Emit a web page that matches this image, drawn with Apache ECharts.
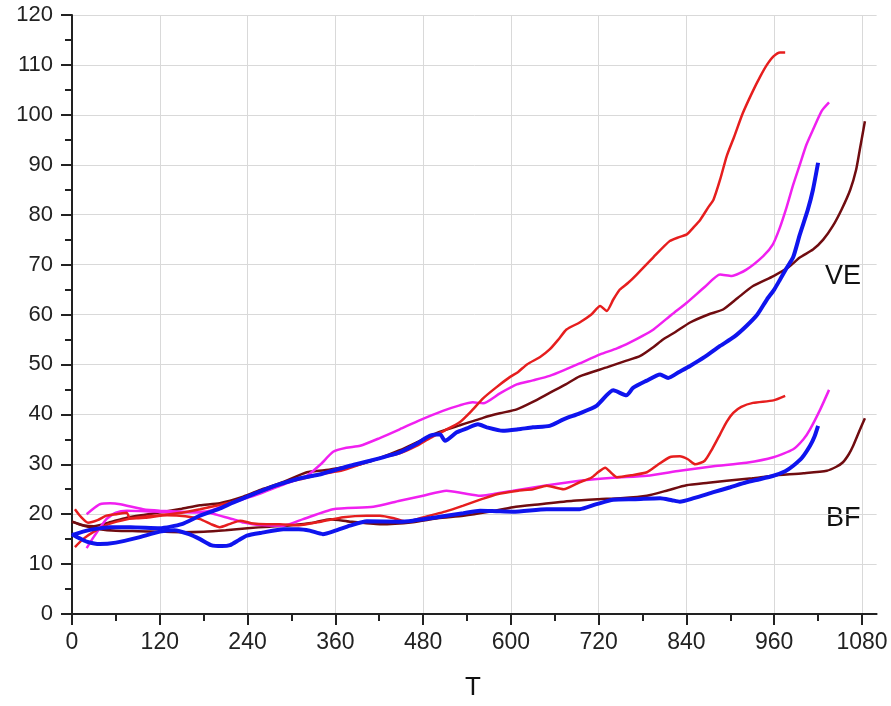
<!DOCTYPE html>
<html>
<head>
<meta charset="utf-8">
<script src="https://cdn.jsdelivr.net/npm/echarts@6/dist/echarts.min.js"></script>
<style>
  html, body { margin: 0; padding: 0; background: #fff; }
  #main { width: 891px; height: 706px; }
</style>
</head>
<body>
<div id="main"></div>
<script>
// x tick labels (T)
const xTicks = [0, 120, 240, 360, 480, 600, 720, 840, 960, 1080];

// VE curves, [T, value]
const veRed = [[4,13.4],[15,15],[30,16.5],[50,18],[75,19],[100,19.5],[120,19.8],[150,20.3],[175,21],[200,21.8],[220,22.5],[245,23.8],[266,25],[290,26.2],[312,27],[340,28],[370,28.8],[394,30],[420,31.2],[448,32.2],[471,33.7],[490,35.3],[510,36.8],[530,38.4],[545,40.5],[562,43.2],[580,45.4],[599,47.5],[610,48.5],[622,50],[640,51.5],[653,53],[665,55],[676,57],[694,58.4],[710,60],[722,61.7],[731,60.7],[740,63],[749,65],[760,66.3],[772,68],[795,71.5],[817,74.7],[830,75.5],[840,76],[850,77.5],[859,79],[870,81.5],[877,83],[886,87],[895,91.7],[905,95.5],[917,100.3],[930,104.5],[941,107.7],[950,110],[959,111.7],[968,112.5],[975,112.5]];
const veMagenta = [[20,13.2],[30,15.5],[47,19],[60,20.3],[75,20.7],[100,20.6],[130,20.4],[160,20.4],[189,20.7],[210,21.8],[234,23],[260,24.3],[290,26],[321,27.7],[340,30],[357,32.5],[375,33.3],[394,33.7],[420,35.2],[448,37],[475,38.8],[507,40.7],[530,41.8],[548,42.4],[562,42.2],[585,44.2],[608,46],[630,46.8],[653,47.7],[675,49],[694,50.2],[722,52],[745,53.2],[763,54.4],[780,55.7],[795,57],[820,60],[840,62.3],[865,65.5],[886,68],[902,67.7],[922,69],[945,71.7],[958,74],[968,77.5],[977,81.5],[986,86],[995,90],[1004,94],[1013,97],[1025,100.8],[1035,102.5]];
const veMaroon = [[0,18.5],[15,17.8],[30,17.6],[50,18.3],[75,19.3],[100,19.9],[130,20.6],[150,21.1],[175,21.8],[202,22.2],[234,23.5],[260,25],[290,26.5],[321,28.4],[345,28.8],[371,29.4],[389,29.8],[420,31.2],[448,32.8],[470,34.3],[499,36.3],[530,37.8],[562,39.3],[585,40.2],[608,41],[630,42.5],[653,44.3],[675,46],[694,47.6],[731,49.4],[755,50.6],[777,51.7],[795,53.5],[808,55],[825,56.5],[845,58.4],[870,60],[890,61],[910,63.3],[931,65.7],[959,67.7],[980,69.5],[995,71.4],[1013,73],[1027,75],[1040,77.7],[1052,81],[1064,85],[1072,89],[1077,93],[1084,98.7]];
const veBlue = [[0,15.8],[15,16.5],[30,17],[52,17.4],[80,17.4],[120,17.2],[150,18],[175,19.7],[200,21],[220,22.3],[248,24],[280,25.8],[312,27.2],[340,28],[380,29.7],[410,30.8],[448,32.4],[470,34],[489,35.7],[503,36],[510,34.7],[526,36.4],[540,37.2],[555,38],[567,37.4],[589,36.7],[610,37],[630,37.4],[653,37.7],[672,39],[694,40.2],[717,41.7],[740,44.8],[758,43.8],[767,45.3],[785,46.7],[804,48],[815,47.3],[830,48.5],[845,49.7],[865,51.5],[886,53.7],[905,55.5],[922,57.7],[937,60],[950,63],[960,65],[968,67],[977,69.3],[986,71.5],[995,76],[1006,81],[1013,85],[1020,90.4]];

// BF curves, [T, value]
const bfRed = [[4,21],[12,19.5],[22,18.3],[35,18.8],[47,19.7],[61,20],[75,20.3],[79,19.2],[100,19.3],[130,19.8],[155,19.6],[175,19],[190,18],[202,17.4],[215,18],[230,18.7],[245,18.2],[266,18],[284,18],[310,17.8],[340,18.5],[371,19.4],[403,19.7],[421,19.7],[440,19.2],[457,18.5],[470,18.9],[489,19.7],[510,20.5],[535,21.7],[560,23],[581,24],[610,24.7],[630,25],[649,25.7],[672,25],[694,26.4],[710,27.3],[720,28.5],[729,29.3],[737,28.3],[745,27.4],[765,27.8],[786,28.4],[800,29.8],[817,31.4],[831,31.6],[842,31],[852,30],[865,30.7],[875,33],[886,36],[895,38.5],[904,40.3],[915,41.5],[931,42.3],[959,42.8],[975,43.7]];
const bfMagenta = [[20,20],[30,21.2],[38,22],[52,22.2],[66,22],[97,21],[120,20.7],[166,20.4],[190,20.2],[202,19.7],[220,19],[235,18.3],[252,17.9],[289,17.7],[316,19],[357,21],[412,21.5],[448,22.7],[480,23.7],[512,24.7],[535,24.2],[558,23.7],[603,24.7],[650,25.8],[694,26.7],[740,27.3],[786,27.7],[831,28.7],[877,29.6],[922,30.3],[959,31.4],[986,33],[1000,35],[1009,37],[1023,41],[1035,44.9]];
const bfMaroon = [[0,18.5],[15,17.7],[38,17],[60,16.7],[90,16.6],[120,16.5],[150,16.4],[180,16.5],[210,16.8],[240,17.2],[270,17.5],[300,17.8],[330,18.3],[353,19],[380,18.5],[421,18],[466,18.4],[500,19.2],[535,19.7],[570,20.5],[603,21.4],[640,22],[685,22.7],[720,23],[750,23.2],[786,23.7],[815,24.8],[840,25.8],[870,26.3],[895,26.7],[930,27.2],[958,27.7],[1000,28.2],[1032,28.7],[1045,29.5],[1054,30.4],[1062,32],[1068,33.7],[1076,36.5],[1084,39.2]];
const bfBlue = [[0,16],[10,15.2],[20,14.5],[38,14],[60,14.3],[90,15.3],[120,16.5],[140,16.8],[160,16],[175,15],[190,13.8],[205,13.6],[216,13.8],[228,14.8],[239,15.7],[260,16.3],[289,17],[310,17],[325,16.7],[343,16],[360,16.7],[380,17.7],[403,18.6],[448,18.5],[466,18.7],[490,19.2],[512,19.7],[535,20.2],[558,20.7],[580,20.6],[603,20.5],[649,21],[694,21],[717,22],[740,22.9],[770,23],[804,23.2],[820,22.8],[831,22.5],[850,23.2],[877,24.4],[900,25.4],[922,26.4],[940,27],[959,27.7],[975,28.6],[986,29.7],[998,31.3],[1009,33.7],[1015,35.5],[1020,37.7]];

const RED = '#e61e1e', MAGENTA = '#f020f0', MAROON = '#700c10', BLUE = '#0f14ee';
const FONT = '"Liberation Sans", Arial, sans-serif';

const mkLine = (data, color, width) => ({
  type: 'line',
  xAxisIndex: 0,
  yAxisIndex: 0,
  data: data,
  showSymbol: false,
  smooth: 0.2,
  lineStyle: { color: color, width: width },
  itemStyle: { color: color }
});

const chart = echarts.init(document.getElementById('main'));
const option = {
  backgroundColor: '#fff',
  animation: false,
  textStyle: { fontFamily: FONT },
  grid: [
    { left: 72, right: 14.4, top: 15, bottom: 92 },
    // tick grid, ends at 1080
    { left: 72, right: 29, top: 15, bottom: 92 }
  ],
  xAxis: [
    {
      type: 'value', gridIndex: 0, min: 0, max: 1100,
      axisLine: { show: true, lineStyle: { color: '#222', width: 2 } },
      axisTick: { show: false }, axisLabel: { show: false }, splitLine: { show: false }
    },
    {
      type: 'value', gridIndex: 1, min: 0, max: 1080, interval: 120,
      axisLine: { show: false },
      axisTick: { show: true, inside: false, length: 11, lineStyle: { color: '#222', width: 2 } },
      minorTick: { show: true, splitNumber: 2, length: 7, lineStyle: { color: '#222', width: 2 } },
      axisLabel: {
        margin: 17, fontSize: 23, color: '#222', fontFamily: FONT,
        customValues: xTicks,
        formatter: v => String(v)
      },
      splitLine: { show: true, lineStyle: { color: '#d9d9d9', width: 1 } }
    }
  ],
  yAxis: [
    {
      type: 'value', gridIndex: 0, min: 0, max: 120, interval: 10,
      axisLine: { show: true, lineStyle: { color: '#222', width: 2 } },
      axisTick: { show: true, inside: false, length: 11, lineStyle: { color: '#222', width: 2 } },
      minorTick: { show: true, splitNumber: 2, length: 7, lineStyle: { color: '#222', width: 2 } },
      axisLabel: { margin: 19, fontSize: 22, color: '#222', fontFamily: FONT },
      splitLine: { show: true, lineStyle: { color: '#d9d9d9', width: 1 } }
    },
    { type: 'value', gridIndex: 1, min: 0, max: 120, show: false }
  ],
  graphic: [
    { type: 'text', left: 825, top: 263, style: { text: 'VE', font: '27px ' + FONT, fill: '#111' } },
    { type: 'text', left: 826, top: 505, style: { text: 'BF', font: '27px ' + FONT, fill: '#111' } },
    { type: 'text', left: 465, top: 675, style: { text: 'T', font: '26px ' + FONT, fill: '#111' } }
  ],
  series: [
    mkLine(veMaroon, MAROON, 2.5),
    mkLine(bfMaroon, MAROON, 2.5),
    mkLine(veMagenta, MAGENTA, 2.5),
    mkLine(bfMagenta, MAGENTA, 2.5),
    mkLine(veRed, RED, 2.5),
    mkLine(bfRed, RED, 2.5),
    mkLine(veBlue, BLUE, 4),
    mkLine(bfBlue, BLUE, 4)
  ]
};
chart.setOption(option);
</script>
</body>
</html>
